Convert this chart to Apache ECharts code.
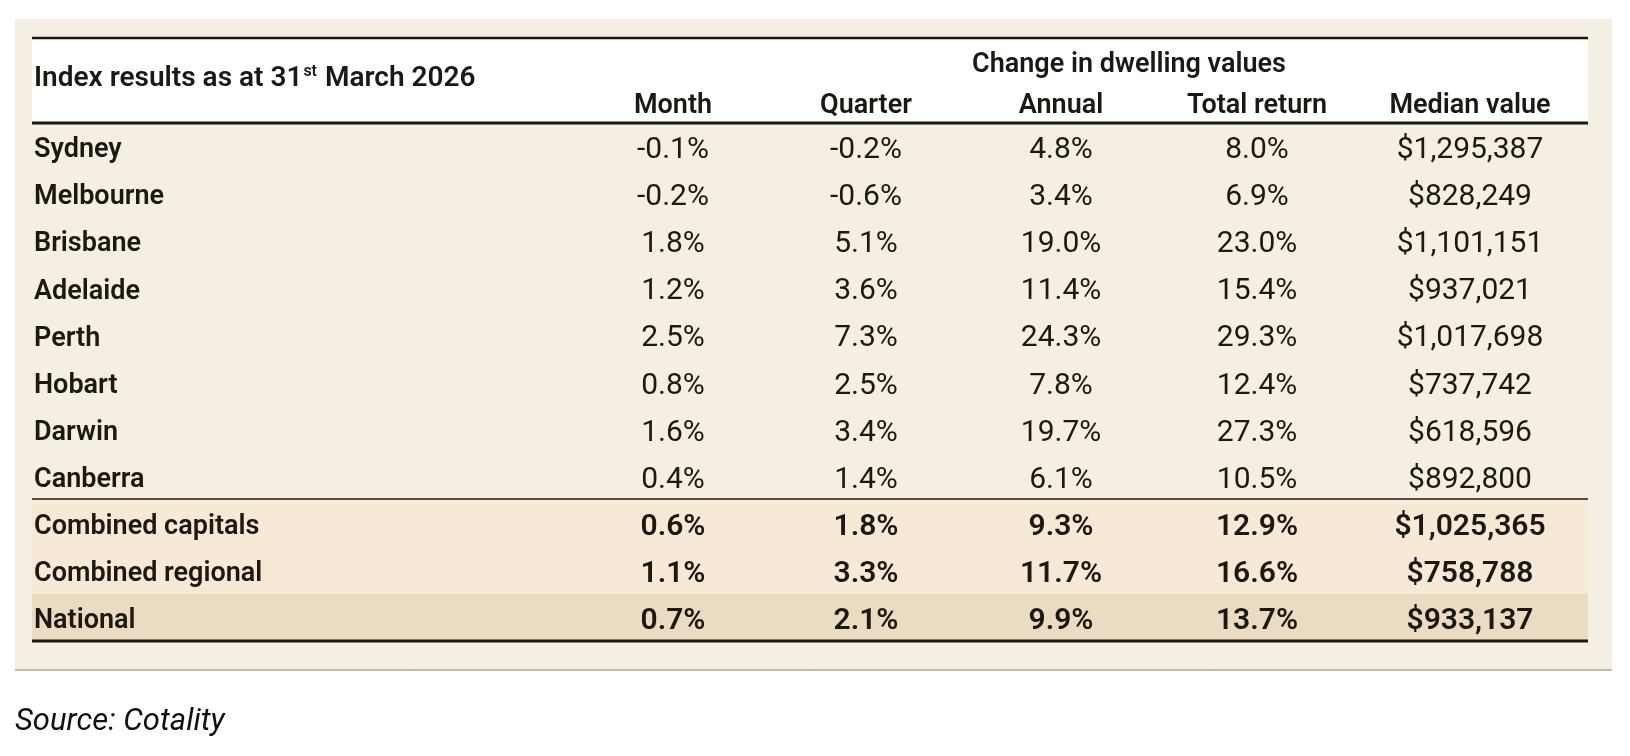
<!DOCTYPE html>
<html>
<head>
<meta charset="utf-8">
<script src="https://cdn.jsdelivr.net/npm/echarts@6/dist/echarts.min.js"></script>
<style>
  html, body { margin: 0; padding: 0; background: #fff; }
  #chart { width: 1630px; height: 756px; }
</style>
</head>
<body>
<div id="chart"></div>
<script>
// table data
var regions = ['Sydney', 'Melbourne', 'Brisbane', 'Adelaide', 'Perth', 'Hobart', 'Darwin', 'Canberra',
  'Combined capitals', 'Combined regional', 'National'];
var columns = ['Month', 'Quarter', 'Annual', 'Total return', 'Median value'];
var month = ['-0.1%', '-0.2%', '1.8%', '1.2%', '2.5%', '0.8%', '1.6%', '0.4%', '0.6%', '1.1%', '0.7%'];
var quarter = ['-0.2%', '-0.6%', '5.1%', '3.6%', '7.3%', '2.5%', '3.4%', '1.4%', '1.8%', '3.3%', '2.1%'];
var annual = ['4.8%', '3.4%', '19.0%', '11.4%', '24.3%', '7.8%', '19.7%', '6.1%', '9.3%', '11.7%', '9.9%'];
var totalReturn = ['8.0%', '6.9%', '23.0%', '15.4%', '29.3%', '12.4%', '27.3%', '10.5%', '12.9%', '16.6%', '13.7%'];
var medianValue = ['$1,295,387', '$828,249', '$1,101,151', '$937,021', '$1,017,698', '$737,742', '$618,596',
  '$892,800', '$1,025,365', '$758,788', '$933,137'];
var boldRows = 3; // last rows in bold

// layout (column centre positions in x-axis units, grid spans 0..1556)
var colX = [2, 641, 834, 1029, 1225, 1438];

var FONT = 'Roboto, "Liberation Sans", sans-serif';
var INK = '#1c1812';

var chart = echarts.init(document.getElementById('chart'));

var valueCols = [month, quarter, annual, totalReturn, medianValue];
var cells = [];
regions.forEach(function (r, i) {
  var bold = i >= regions.length - boldRows;
  cells.push([0, i, r, 1]);
  valueCols.forEach(function (col, c) {
    cells.push([c + 1, i, col[i], bold ? 1 : 0]);
  });
});

var rowBands = regions.map(function (r, i) { return [i, i < 8 ? 0 : (i < 10 ? 1 : 2)]; });
var bandColors = ['rgba(0,0,0,0)', '#f6ead7', '#eadbc3'];

chart.setOption({
  animation: false,
  grid: { left: 32, right: 42, top: 123, bottom: 115 },
  xAxis: { type: 'value', min: 0, max: 1556, show: false },
  yAxis: { type: 'category', data: regions, inverse: true, show: false },
  graphic: [
    { type: 'rect', z: -10, shape: { x: 15, y: 19, width: 1597, height: 651 }, style: { fill: '#f5eee3' } },
    { type: 'line', shape: { x1: 15, y1: 670, x2: 1612, y2: 670 }, style: { stroke: '#8a847c', lineWidth: 1 } },
    { type: 'rect', z: -5, shape: { x: 32, y: 38, width: 1556, height: 85 }, style: { fill: '#ffffff' } },
    { type: 'line', shape: { x1: 32, y1: 38, x2: 1588, y2: 38 }, style: { stroke: INK, lineWidth: 2.5 } },
    { type: 'line', shape: { x1: 32, y1: 123, x2: 1588, y2: 123 }, style: { stroke: INK, lineWidth: 3 } },
    {
      type: 'text', left: 34, top: 64,
      style: {
        text: '{a|Index results as at 31}{s|st}{a| March 2026}',
        rich: {
          a: { fontFamily: FONT, fontSize: 28, fontWeight: 600, fill: INK },
          s: { fontFamily: FONT, fontSize: 16, fontWeight: 600, fill: INK, verticalAlign: 'top', padding: [0, 1, 14, 1] }
        }
      }
    },
    {
      type: 'text', x: 1129, y: 65,
      style: { text: 'Change in dwelling values', fontFamily: FONT, fontSize: 27, fontWeight: 600, fill: INK,
        textAlign: 'center', textVerticalAlign: 'middle' }
    },
    {
      type: 'text', left: 15, top: 707,
      style: { text: 'Source: Cotality', fontFamily: FONT, fontSize: 31, fontStyle: 'italic', fill: '#111' }
    }
  ].concat(columns.map(function (c, k) {
    return {
      type: 'text', x: 32 + colX[k + 1], y: 106,
      style: { text: c, fontFamily: FONT, fontSize: 27, fontWeight: 600, fill: INK,
        textAlign: 'center', textVerticalAlign: 'middle' }
    };
  })),
  series: [
    {
      type: 'custom',
      data: rowBands,
      z: 1,
      renderItem: function (params, api) {
        var i = api.value(0);
        var p0 = api.coord([0, i]);
        var p1 = api.coord([1556, i]);
        var h = api.size([0, 1])[1];
        var children = [{
          type: 'rect',
          shape: { x: p0[0], y: p0[1] - h / 2, width: p1[0] - p0[0], height: h },
          style: { fill: bandColors[api.value(1)] }
        }];
        if (i === 7 || i === regions.length - 1) {
          children.push({
            type: 'line',
            shape: { x1: p0[0], y1: p0[1] + h / 2, x2: p1[0], y2: p0[1] + h / 2 },
            style: { stroke: INK, lineWidth: 3 }
          });
        }
        return { type: 'group', children: children };
      }
    },
    {
      type: 'custom',
      data: cells,
      z: 5,
      renderItem: function (params, api) {
        var c = api.value(0);
        var i = api.value(1);
        var p = api.coord([colX[c], i]);
        var d = cells[params.dataIndex];
        return {
          type: 'text',
          x: p[0], y: p[1] + 4,
          style: {
            text: d[2],
            fontFamily: FONT,
            fontSize: c === 0 ? 27 : 30,
            fontWeight: d[3] ? 600 : 400,
            fill: INK,
            textAlign: c === 0 ? 'left' : 'center',
            textVerticalAlign: 'middle'
          }
        };
      }
    }
  ]
});
</script>
</body>
</html>
